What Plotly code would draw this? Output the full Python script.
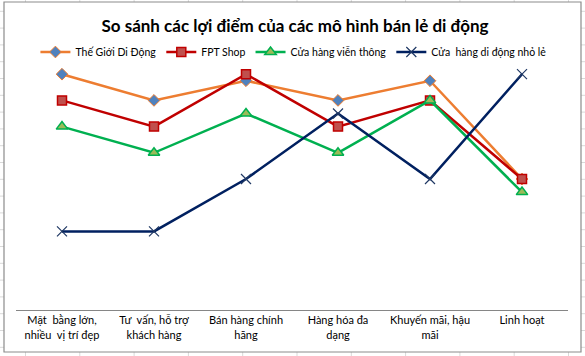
import plotly.graph_objects as go

categories = ["Mặt  bằng lớn,<br>nhiều  vị trí đẹp", "Tư  vấn, hỗ trợ<br>khách hàng",
              "Bán hàng chính<br>hãng", "Hàng hóa đa<br>dạng", "Khuyến mãi, hậu<br>mãi", "Linh hoạt"]
series_names = ["Thế Giới Di Động", "FPT Shop", "Cửa hàng viễn thông", "Cửa  hàng di động nhỏ lẻ"]
tgdd = [9, 8, 8.75, 8, 8.75, 5]
fpt = [8, 7, 9, 7, 8, 5]
vienthong = [7, 6, 7.5, 6, 8, 4.5]
nhole = [3, 3, 5, 7.5, 5, 9]

W, H = 585, 356
FONT = "Lato"
L, R, T, B = 16, 568, 48, 310  # plot area in px

def px_x(v):
    return (v - L) / (R - L)

def px_y(v):
    return (B - v) / (B - T)

fig = go.Figure()
x = list(range(len(categories)))
fig.add_trace(go.Scatter(x=x, y=tgdd, name=series_names[0], mode="lines+markers",
                         line=dict(color="#ED7D31", width=2.5),
                         marker=dict(symbol="diamond", size=9, color="#4F81BD",
                                     line=dict(color="#ED7D31", width=1))))
fig.add_trace(go.Scatter(x=x, y=fpt, name=series_names[1], mode="lines+markers",
                         line=dict(color="#C00000", width=2.5),
                         marker=dict(symbol="square", size=9, color="#C0504D",
                                     line=dict(color="#C00000", width=1.5))))
fig.add_trace(go.Scatter(x=x, y=vienthong, name=series_names[2], mode="lines+markers",
                         line=dict(color="#00B050", width=2.5),
                         marker=dict(symbol="triangle-up", size=10, color="#9BBB59",
                                     line=dict(color="#00B050", width=1.5))))
fig.add_trace(go.Scatter(x=x, y=nhole, name=series_names[3], mode="lines+markers",
                         line=dict(color="#002060", width=2.5),
                         marker=dict(symbol="x-thin", size=10, color="#1F3864",
                                     line=dict(color="#1F3864", width=1.2))))

shapes = []
# spreadsheet grid behind the chart
xc = 25.5
while xc < W:
    shapes.append(dict(type="line", xref="paper", yref="paper", layer="below",
                       x0=px_x(xc), x1=px_x(xc), y0=px_y(0), y1=px_y(H),
                       line=dict(color="#D9D9D9", width=1)))
    xc += 54.3
yr = 61.7 - 3 * 16.8
while yr < H:
    shapes.append(dict(type="line", xref="paper", yref="paper", layer="below",
                       x0=px_x(0), x1=px_x(W), y0=px_y(yr), y1=px_y(yr),
                       line=dict(color="#D9D9D9", width=1)))
    yr += 16.8
# chart area
shapes.append(dict(type="rect", xref="paper", yref="paper", layer="below",
                   x0=px_x(4), x1=px_x(581), y0=px_y(352), y1=px_y(2),
                   fillcolor="white", line=dict(color="#8C8C8C", width=1.2)))

fig.update_layout(
    width=W, height=H,
    margin=dict(l=L, r=W - R, t=T, b=H - B, autoexpand=False),
    paper_bgcolor="white", plot_bgcolor="rgba(0,0,0,0)",
    font=dict(family=FONT, color="#000000"),
    title=dict(text="<b>So sánh các lợi điểm của các mô hình bán lẻ di động</b>",
               x=295 / W, xanchor="center", y=1 - 26 / H, yanchor="middle",
               font=dict(size=17, family=FONT, color="#000000")),
    legend=dict(orientation="h", x=294 / W, xanchor="center", y=1 - 52 / H, yref="container",
                yanchor="middle", font=dict(size=10.5, family=FONT, color="#000000"),
                bgcolor="rgba(0,0,0,0)", itemwidth=30, tracegroupgap=0),
    xaxis=dict(tickmode="array", tickvals=x, ticktext=categories, range=[-0.5, 5.5],
               showgrid=False, zeroline=False, showline=True, linecolor="#868686",
               linewidth=1.3, ticks="", automargin=False,
               tickfont=dict(size=11, family=FONT, color="#000000")),
    yaxis=dict(range=[0, 10], visible=False, showgrid=False, zeroline=False, automargin=False),
    shapes=shapes,
    showlegend=True,
)

fig.write_html("out.html", config={"displayModeBar": False},
               post_script="document.body.style.margin='0';document.body.style.padding='0';")
